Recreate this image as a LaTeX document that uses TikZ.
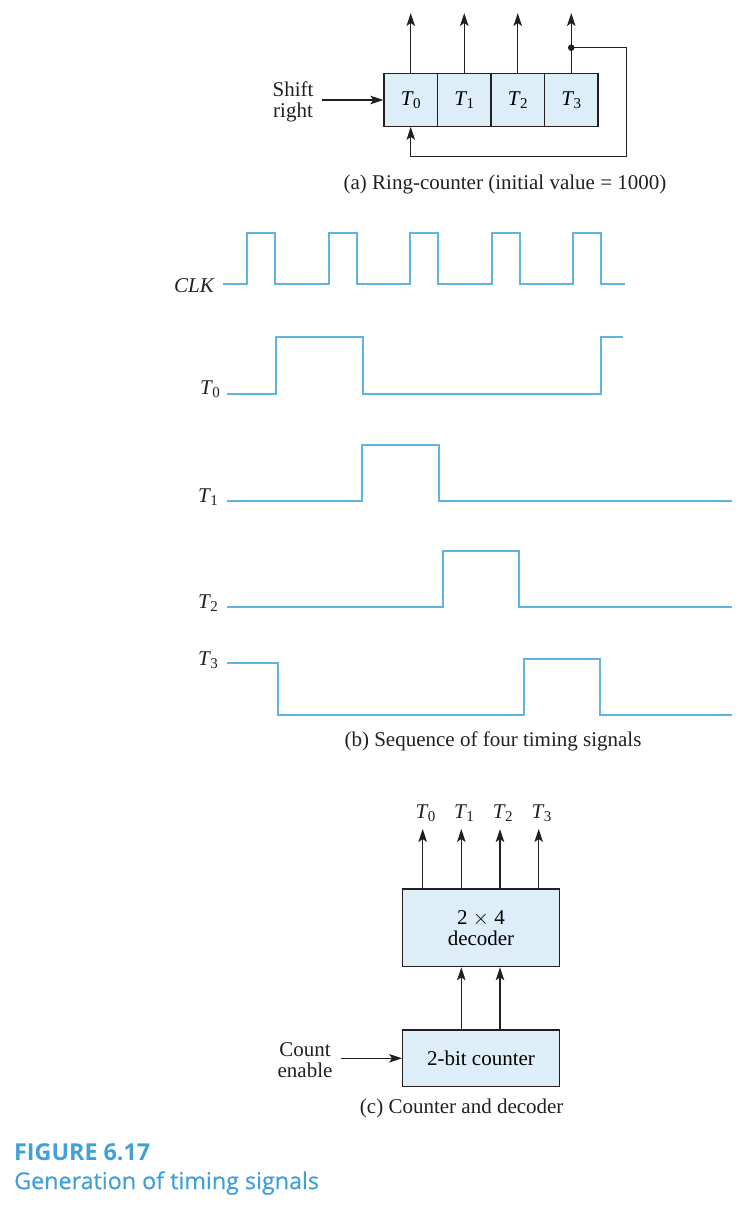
\documentclass[tikz,border=0pt]{standalone}
\usepackage{fontspec}
\setmainfont{Liberation Serif}
\newfontfamily\capfont{Open Sans}
\newfontfamily\capsemi{Open Sans}[BoldFont={Open Sans},BoldFeatures={FakeBold=0.6}]
\usetikzlibrary{arrows.meta}
\definecolor{boxfill}{RGB}{221,238,248}
\definecolor{wavecol}{RGB}{95,180,226}
\definecolor{capcol}{RGB}{66,160,216}
\definecolor{ink}{RGB}{35,31,32}
\newcommand\Ts[1]{\textit{T}\kern-0.03em\raisebox{-0.32ex}{\fontsize{15}{15}\selectfont #1}}
\tikzset{
  txt/.style={font=\fontsize{21}{22}\selectfont, inner sep=0pt, text=ink},
  cell/.style={draw=ink, line width=1.3pt, fill=boxfill, minimum width=53.5pt, minimum height=52.5pt, inner sep=0pt, font=\fontsize{21}{22}\selectfont},
  blk/.style={draw=ink, line width=1.3pt, fill=boxfill, minimum width=156.6pt, inner sep=0pt, align=center, font=\fontsize{21}{22}\selectfont},
  conn/.style={draw=ink, line width=1.3pt},
  arr/.style={conn, -{Stealth[length=13pt,width=8.5pt,inset=3pt]}},
  wave/.style={draw=wavecol, line width=1.9pt},
  figcap/.style={text=capcol, anchor=west, inner sep=0pt}
}
\begin{document}
\begin{tikzpicture}[x=1pt,y=-1pt]
\useasboundingbox (0,0) rectangle (751,1205);
% (a) ring counter
\node[cell] (c0) at (410.75,100) {\Ts{0}};
\node[cell] (c1) at (464.25,100) {\Ts{1}};
\node[cell] (c2) at (517.75,100) {\Ts{2}};
\node[cell] (c3) at (571.25,100) {\Ts{3}};
\coordinate (o0) at (410.75,13);
\coordinate (o1) at (464.25,13);
\coordinate (o2) at (517.75,13);
\coordinate (o3) at (571.25,13);
\draw[arr] (c0.north) -- (o0);
\draw[arr] (c1.north) -- (o1);
\draw[arr] (c2.north) -- (o2);
\draw[arr] (c3.north) -- (o3);
\coordinate (dot) at (571.25,47.7);
\fill[ink] (dot) circle (3.3pt);
\coordinate (fbA) at (626.7,47.7);
\coordinate (fbB) at (626.7,156.7);
\coordinate (fbC) at (410.75,156.7);
\draw[arr] (dot) -- (fbA) -- (fbB) -- (fbC) -- (c0.south);
\node[txt, align=center] (shift) at (293,102) {Shift\\[-1pt]right};
\coordinate (sr) at (322,100);
\draw[arr] (sr) -- (c0.west);
\node[txt] (capa) at (505,184) {(a) Ring-counter (initial value = 1000)};
% (b) waveforms
\node[txt, anchor=east] (lclk) at (215,286) {\textit{CLK}};
\draw[wave] (223.3,284.3) -- (247.3,284.3) -- (247.3,232.7) -- (275.3,232.7) -- (275.3,284.3)
  -- (329,284.3) -- (329,232.7) -- (357,232.7) -- (357,284.3)
  -- (410.3,284.3) -- (410.3,232.7) -- (438.3,232.7) -- (438.3,284.3)
  -- (491.7,284.3) -- (491.7,232.7) -- (519.7,232.7) -- (519.7,284.3)
  -- (573.3,284.3) -- (573.3,232.7) -- (601.3,232.7) -- (601.3,284.3) -- (625,284.3);
\node[txt, anchor=east] (lt0) at (220,389) {\Ts{0}};
\draw[wave] (226.7,393.7) -- (276,393.7) -- (276,337.3) -- (362.7,337.3) -- (362.7,393.7)
  -- (600.7,393.7) -- (600.7,337.3) -- (623.3,337.3);
\node[txt, anchor=east] (lt1) at (218,497) {\Ts{1}};
\draw[wave] (226.7,501) -- (362,501) -- (362,445) -- (438.7,445) -- (438.7,501) -- (731.7,501);
\node[txt, anchor=east] (lt2) at (218,603) {\Ts{2}};
\draw[wave] (226.7,607) -- (442.7,607) -- (442.7,551.3) -- (519,551.3) -- (519,607) -- (731.7,607);
\node[txt, anchor=east] (lt3) at (218,660) {\Ts{3}};
\draw[wave] (226.7,662.7) -- (277.7,662.7) -- (277.7,715) -- (523.7,715) -- (523.7,658.7)
  -- (600,658.7) -- (600,715) -- (731.7,715);
\node[txt] (capb) at (493,741) {(b) Sequence of four timing signals};
% (c) counter and decoder
\node[blk, minimum height=77.7pt] (dec) at (481,927.8) {2 $\times$ 4\\[-1pt]decoder};
\node[blk, minimum height=56.7pt] (cnt) at (481,1058.3) {2-bit counter};
\coordinate (d0) at (422.7,829);
\coordinate (d1) at (461.3,829);
\coordinate (d2) at (500,829);
\coordinate (d3) at (538.7,829);
\draw[arr] (dec.north -| d0) -- (d0);
\draw[arr] (dec.north -| d1) -- (d1);
\draw[arr] (dec.north -| d2) -- (d2);
\draw[arr] (dec.north -| d3) -- (d3);
\node[txt] (lo0) at (425.5,813) {\Ts{0}};
\node[txt] (lo1) at (464,813) {\Ts{1}};
\node[txt] (lo2) at (502.7,813) {\Ts{2}};
\node[txt] (lo3) at (541.4,813) {\Ts{3}};
\draw[arr] (cnt.north -| d1) -- (dec.south -| d1);
\draw[arr] (cnt.north -| d2) -- (dec.south -| d2);
\node[txt, align=center] (ce) at (305,1060) {Count\\[-1pt]enable};
\coordinate (cein) at (341,1058.3);
\draw[arr] (cein) -- (cnt.west);
\node[txt] (capc) at (461.7,1108) {(c) Counter and decoder};
% figure caption
\node[figcap, font=\capfont\bfseries\fontsize{23.3}{24}\selectfont] (fig) at (14,1152) {FIGURE 6.17};
\node[figcap, font=\capsemi\bfseries\fontsize{23.3}{24}\selectfont] (figt) at (14,1183) {Generation of timing signals};
\end{tikzpicture}
\end{document}
